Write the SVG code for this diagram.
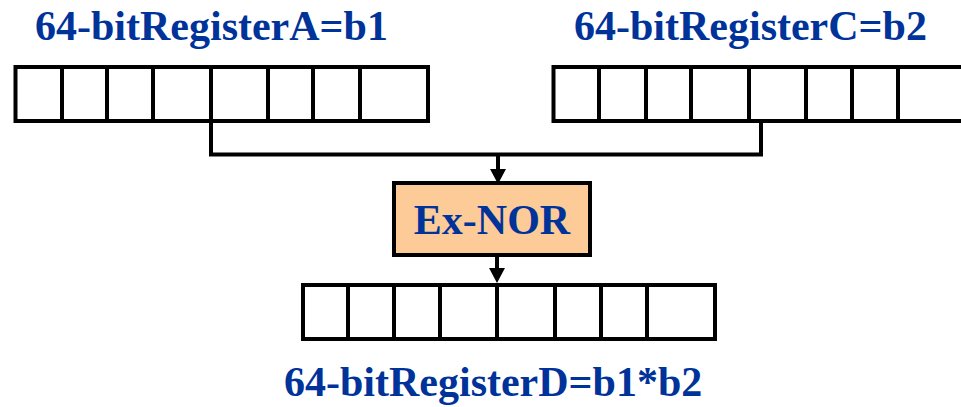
<svg xmlns="http://www.w3.org/2000/svg" width="961" height="407" viewBox="0 0 961 407">
<style>
.reg{fill:#ffffff;stroke:#000;stroke-width:4}
.div{stroke:#000;stroke-width:4;fill:none}
.lbl{font-family:"Liberation Serif","Times New Roman",serif;font-weight:bold;font-size:42px;fill:#003399}
.con{stroke:#000;stroke-width:4;fill:none}
</style>
<defs>
<path id="ah" d="M-8,0L8,0L0,15Z" fill="#000"/>
</defs>
<rect width="961" height="407" fill="#fff"/>
<g id="regA">
<rect class="reg" x="15.5" y="67" width="412.5" height="54"/>
<path class="div" d="M62,67V121M107,67V121M153,67V121M211,67V121M268,67V121M313,67V121M360,67V121"/>
<text class="lbl" x="35" y="40">64-bitRegisterA=b1</text>
</g>
<g id="regC">
<rect class="reg" x="553.5" y="67" width="430" height="54"/>
<path class="div" d="M599,67V121M646,67V121M691,67V121M749,67V121M806,67V121M852,67V121M898,67V121"/>
<text class="lbl" x="574" y="40">64-bitRegisterC=b2</text>
</g>
<g id="exnor">
<rect x="394" y="183" width="196" height="72" fill="#fccb98" stroke="#000" stroke-width="4"/>
<text class="lbl" x="492" y="234" text-anchor="middle" style="font-size:42px">Ex-NOR</text>
</g>
<g id="regD">
<rect class="reg" x="303" y="285" width="412" height="54"/>
<path class="div" d="M348,285V339M394,285V339M440,285V339M497,285V339M555,285V339M601,285V339M647,285V339"/>
<text class="lbl" x="284" y="396">64-bitRegisterD=b1*b2</text>
</g>
<g id="connectors">
<path class="con" d="M211,121V154.5H761V121"/>
<path d="M498,154.5V171" class="con"/>
<use href="#ah" x="498" y="169"/>
<path d="M497,257V268" class="con"/>
<use href="#ah" x="497" y="268"/>
</g>
</svg>
